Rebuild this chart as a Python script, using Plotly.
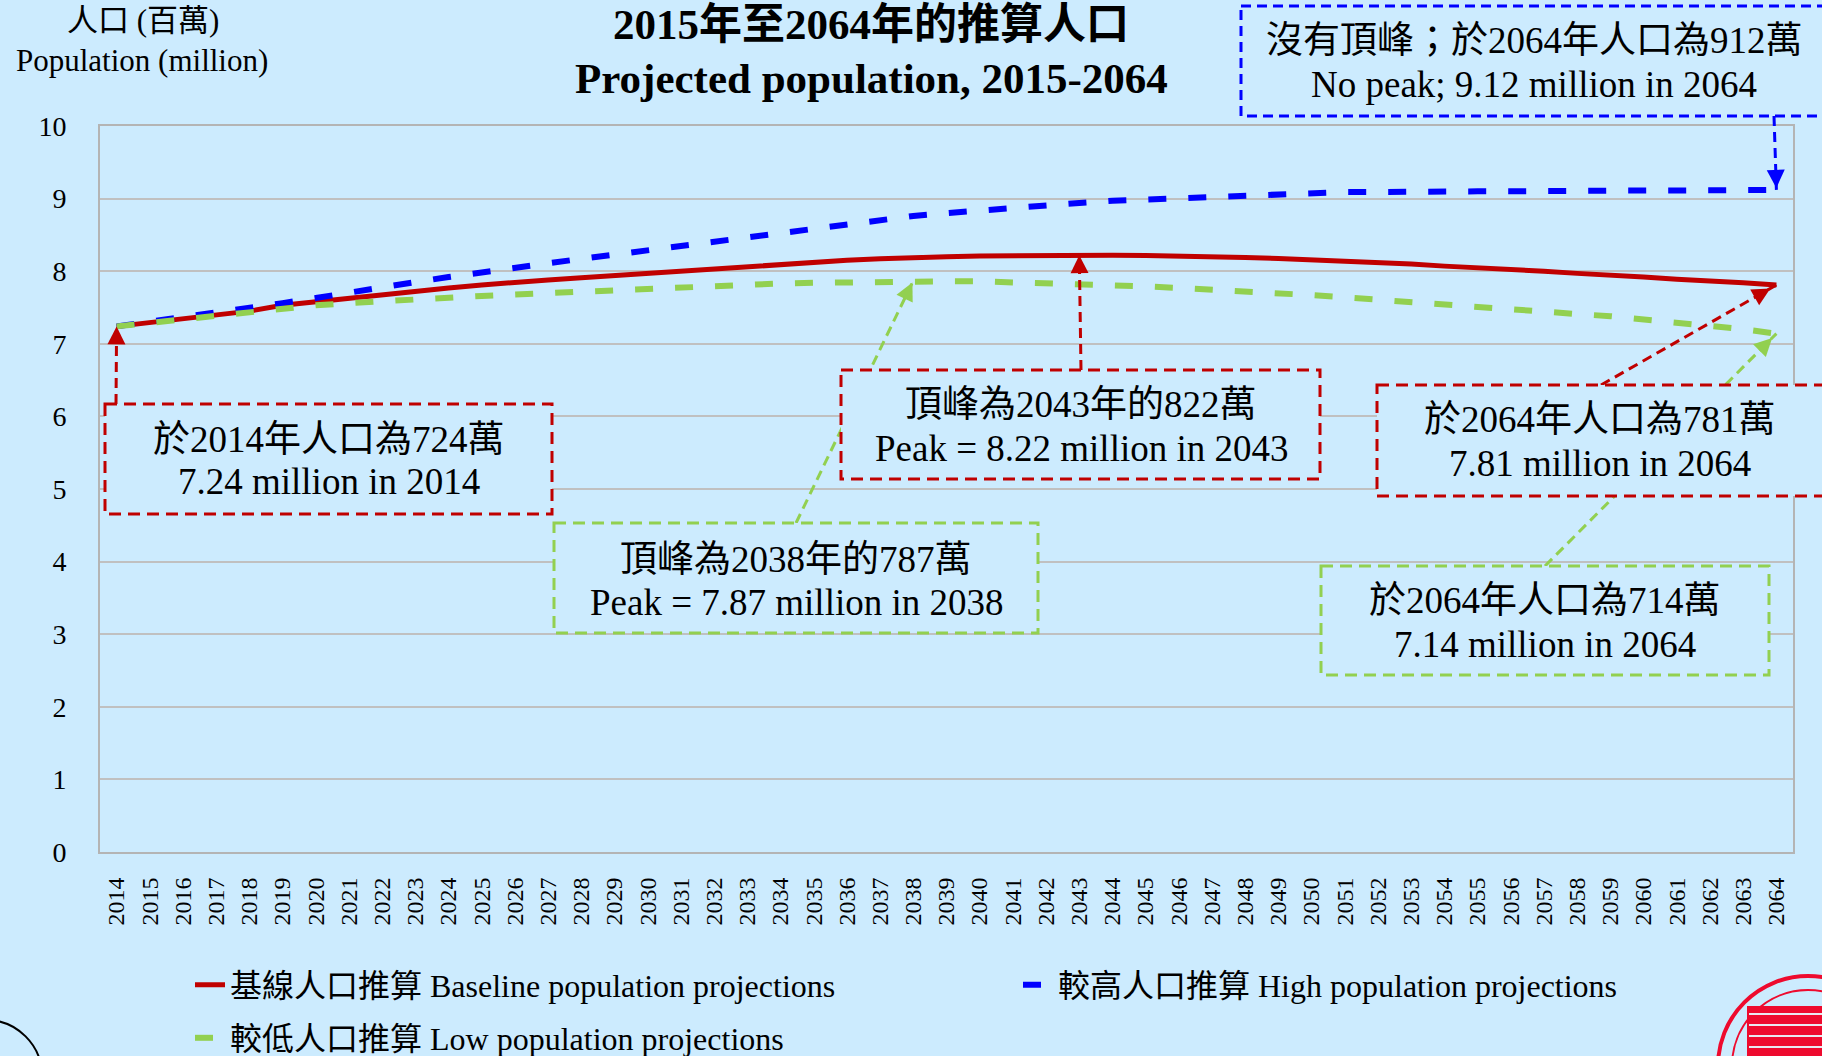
import plotly.graph_objects as go

years = list(range(2014, 2065))

baseline = [7.24, 7.29, 7.34, 7.39, 7.45, 7.53, 7.58, 7.63, 7.68, 7.73,
            7.77, 7.81, 7.85, 7.88, 7.91, 7.94, 7.97, 8.00, 8.03, 8.07,
            8.10, 8.13, 8.15, 8.17, 8.19, 8.20, 8.21, 8.215, 8.22, 8.22,
            8.22, 8.215, 8.21, 8.20, 8.19, 8.175, 8.16, 8.14, 8.12, 8.10,
            8.07, 8.05, 8.02, 8.00, 7.97, 7.95, 7.92, 7.89, 7.87, 7.84, 7.81]

high = [7.24, 7.30, 7.36, 7.42, 7.49, 7.56, 7.63, 7.71, 7.78, 7.85,
        7.92, 7.99, 8.05, 8.11, 8.17, 8.23, 8.29, 8.35, 8.41, 8.47,
        8.52, 8.58, 8.64, 8.70, 8.76, 8.80, 8.84, 8.88, 8.91, 8.94,
        8.97, 8.99, 9.01, 9.03, 9.05, 9.07, 9.08, 9.09, 9.09, 9.10,
        9.10, 9.10, 9.10, 9.11, 9.11, 9.11, 9.11, 9.11, 9.12, 9.12, 9.12]

low = [7.24, 7.29, 7.34, 7.39, 7.45, 7.50, 7.53, 7.56, 7.59, 7.62,
       7.64, 7.66, 7.68, 7.70, 7.73, 7.75, 7.77, 7.78, 7.80, 7.81,
       7.83, 7.84, 7.85, 7.86, 7.87, 7.86, 7.86, 7.85, 7.84, 7.82,
       7.81, 7.79, 7.77, 7.75, 7.72, 7.69, 7.67, 7.64, 7.61, 7.58,
       7.55, 7.51, 7.48, 7.45, 7.41, 7.38, 7.34, 7.30, 7.26, 7.20, 7.14]

names = ["基線人口推算 Baseline population projections",
         "較高人口推算 High population projections",
         "較低人口推算 Low population projections"]

BG = "#CCEBFE"
RED = "#C00000"
BLUE = "#0000FF"
GREEN = "#92D050"
FONT = "'Liberation Serif', 'Times New Roman', 'Noto Sans CJK TC', serif"

# page and plot area in pixels
PW, PH = 1822, 1056
L, R, T, B = 100, 1793, 126, 852
W, H = R - L, B - T
X0, X1 = 2013.5, 2064.5


def px(x):
    return (x - L) / W


def py(y):
    return (B - y) / H


def dx(year):
    return (year - X0) / (X1 - X0)


def dy(v):
    return v / 10


fig = go.Figure()
fig.add_trace(go.Scatter(x=years, y=baseline, mode="lines", name=names[0],
                         line=dict(color=RED, width=5), legend="legend"))
fig.add_trace(go.Scatter(x=years, y=high, mode="lines", name=names[1],
                         line=dict(color=BLUE, width=6, dash="18px,22px"),
                         legend="legend2"))
fig.add_trace(go.Scatter(x=years, y=low, mode="lines", name=names[2],
                         line=dict(color=GREEN, width=6, dash="18px,22px"),
                         legend="legend3"))


def box(x0, y0, x1, y1, color, dash="12px,7px"):
    fig.add_shape(type="rect", xref="paper", yref="paper",
                  x0=px(x0), x1=px(x1), y0=py(y0), y1=py(y1),
                  line=dict(color=color, width=3, dash=dash),
                  fillcolor=BG, layer="above")


def label(x, y, text, size=37):
    fig.add_annotation(xref="paper", yref="paper", x=px(x), y=py(y),
                       text=text, showarrow=False, align="center",
                       xanchor="center", yanchor="middle",
                       font=dict(size=size, color="black", family=FONT))


def arrow(x0, y0, year, val, color, standoff=0):
    fig.add_shape(type="line", xref="paper", yref="paper",
                  x0=px(x0), y0=py(y0), x1=dx(year), y1=dy(val),
                  line=dict(color=color, width=3, dash="10px,6px"),
                  layer="above")
    tx = L + dx(year) * W
    ty = B - dy(val) * H
    vx, vy = x0 - tx, y0 - ty
    n = (vx ** 2 + vy ** 2) ** 0.5
    fig.add_annotation(xref="x", yref="y", x=year, y=val, text="",
                       showarrow=True, arrowhead=2, arrowsize=1.2,
                       arrowwidth=3, arrowcolor=color, standoff=standoff,
                       ax=vx / n * 16, ay=vy / n * 16)


i14, i38, i43, i64 = 0, years.index(2038), years.index(2043), years.index(2064)

# arrows first so boxes sit on top of them
arrow(116, 404, years[i14], baseline[i14], RED)
arrow(796, 523, years[i38], low[i38], GREEN, standoff=2)
arrow(1081, 370, years[i43], baseline[i43], RED)
arrow(1545, 566, years[i64], low[i64], GREEN, standoff=6)
arrow(1601, 385, years[i64], baseline[i64], RED, standoff=7)
arrow(1774, 116, years[i64], high[i64], BLUE, standoff=2)

box(105, 404, 552, 514, RED)
label(329, 439, "於2014年人口為724萬")
label(329, 482, "7.24 million in 2014")
box(554, 523, 1038, 633, GREEN)
label(796, 559, "頂峰為2038年的787萬")
label(796, 602, "Peak = 7.87 million in 2038")
box(841, 370, 1320, 479, RED)
label(1081, 404, "頂峰為2043年的822萬")
label(1081, 448, "Peak = 8.22 million in 2043")
box(1321, 566, 1769, 675, GREEN)
label(1545, 600, "於2064年人口為714萬")
label(1545, 644, "7.14 million in 2064")
box(1377, 385, 1850, 496, RED)
label(1600, 419, "於2064年人口為781萬")
label(1600, 463, "7.81 million in 2064")
box(1241, 6, 1850, 116, BLUE, dash="10px,6px")
label(1534, 41, "沒有頂峰；於2064年人口為912萬")
label(1534, 85, "No peak; 9.12 million in 2064")

# titles
label(871, 24, "<b>2015年至2064年的推算人口</b>", size=43)
label(871, 78, "<b>Projected population, 2015-2064</b>", size=43)
label(143, 21, "人口 (百萬)", size=31)
label(142, 60, "Population (million)", size=31)

# logo bits at the page edges
fig.add_shape(type="circle", xref="paper", yref="paper",
              x0=px(1718), x1=px(1898), y0=py(976), y1=py(1156),
              line=dict(color="#EE0A2E", width=4))
fig.add_shape(type="circle", xref="paper", yref="paper",
              x0=px(1732), x1=px(1884), y0=py(990), y1=py(1142),
              line=dict(color="#EE0A2E", width=2))
fig.add_shape(type="rect", xref="paper", yref="paper",
              x0=px(1747), x1=px(1830), y0=py(1006), y1=py(1070),
              line=dict(width=0), fillcolor="#EE0A2E")
for yy in (1014, 1025, 1036, 1047):
    fig.add_shape(type="line", xref="paper", yref="paper",
                  x0=px(1749), x1=px(1830), y0=py(yy), y1=py(yy),
                  line=dict(color="#E8E8F0", width=2))
fig.add_shape(type="circle", xref="paper", yref="paper",
              x0=px(-70), x1=px(42), y0=py(1020), y1=py(1132),
              line=dict(color="black", width=2))

leg = dict(orientation="h", xanchor="left", yanchor="middle",
           xref="container", yref="container",
           bgcolor="rgba(0,0,0,0)", font=dict(size=32, family=FONT))

fig.update_layout(
    width=PW, height=PH,
    paper_bgcolor=BG, plot_bgcolor=BG,
    margin=dict(l=L, r=PW - R, t=T, b=PH - B, autoexpand=False),
    font=dict(family=FONT, color="black"),
    showlegend=True,
    legend=dict(leg, x=190 / PW, y=1 - 985 / PH),
    legend2=dict(leg, x=1018 / PW, y=1 - 985 / PH),
    legend3=dict(leg, x=190 / PW, y=1 - 1038 / PH),
    xaxis=dict(range=[X0, X1], tickmode="array", tickvals=years,
               ticktext=[str(y) for y in years], tickangle=-90,
               showgrid=False, zeroline=False, showline=True, mirror=True,
               linecolor="#B4B4B4", linewidth=2, ticks="",
               ticklabelstandoff=14, automargin=False,
               tickfont=dict(size=24, family=FONT, color="black")),
    yaxis=dict(range=[0, 10], dtick=1, showgrid=True, gridcolor="#C0C0C0",
               gridwidth=2, zeroline=False, showline=True, mirror=True,
               linecolor="#B4B4B4", linewidth=2, ticks="",
               ticklabelstandoff=26, automargin=False,
               tickfont=dict(size=28, family=FONT, color="black")),
)

fig.write_html("out.html", config={"displayModeBar": False},
               post_script="document.body.style.margin='0';")
